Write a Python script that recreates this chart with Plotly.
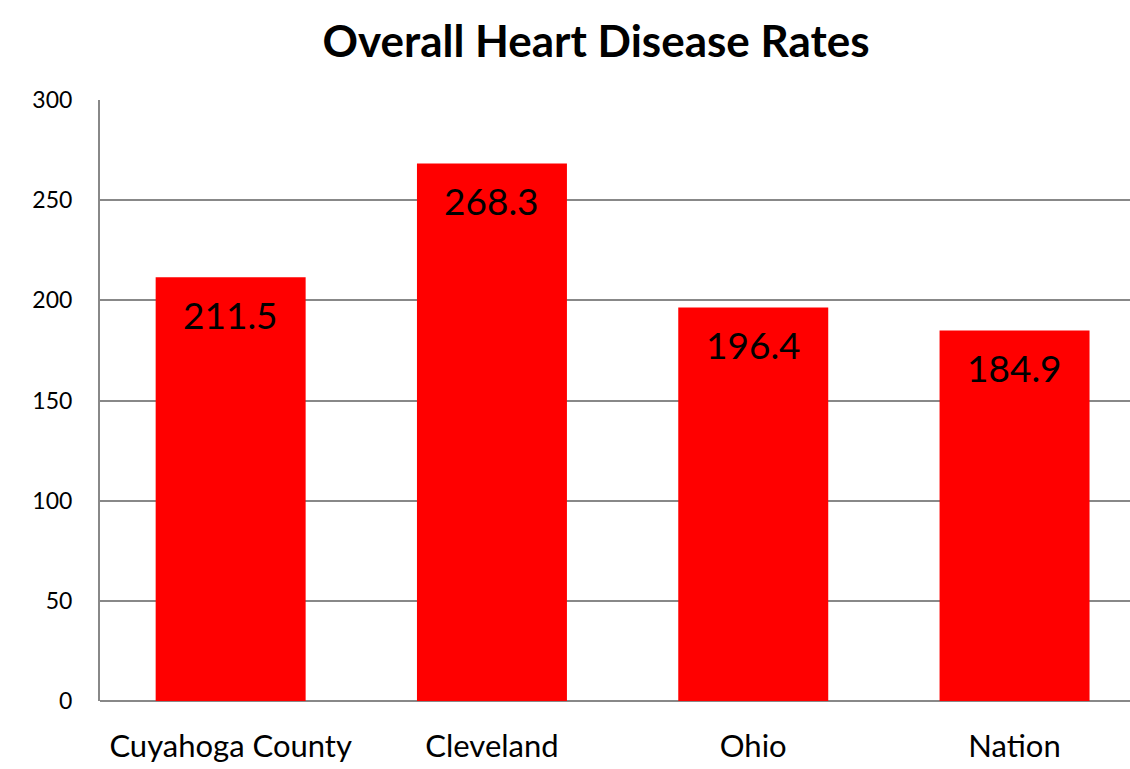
import plotly.graph_objects as go

categories = ["Cuyahoga County", "Cleveland", "Ohio", "Nation"]
rates = [211.5, 268.3, 196.4, 184.9]
y_ticks = [0, 50, 100, 150, 200, 250, 300]

FONT = "Lato"

fig = go.Figure()
fig.add_trace(go.Bar(
    x=list(range(len(categories))),
    y=rates,
    width=0.574,
    marker=dict(color="#FF0000", line=dict(width=0)),
    hoverinfo="skip",
))

for i, v in enumerate(rates):
    fig.add_annotation(
        x=i, y=v, xref="x", yref="y",
        text=f"{v:.1f}", showarrow=False,
        yanchor="middle", yshift=-37,
        font=dict(family=FONT, size=37, color="#000000"),
    )

fig.update_layout(
    width=1130, height=769,
    margin=dict(l=100, r=0, t=100, b=68),
    paper_bgcolor="white", plot_bgcolor="white",
    showlegend=False,
    title=dict(
        text="<b>Overall Heart Disease Rates</b>",
        x=596 / 1130, xref="container", xanchor="center",
        y=1 - 42 / 769, yref="container", yanchor="middle",
        font=dict(family=FONT, size=44, color="#000000"),
    ),
    xaxis=dict(
        range=[-0.5, -0.5 + 1030 / 261.3],
        tickmode="array",
        tickvals=list(range(len(categories))),
        ticktext=categories,
        tickfont=dict(family=FONT, size=31, color="#000000"),
        showgrid=False, zeroline=False,
        showline=False, ticks="", ticklabelstandoff=24,
    ),
    yaxis=dict(
        range=[0, 300],
        tickmode="array",
        tickvals=y_ticks,
        tickfont=dict(family=FONT, size=23, color="#000000"),
        showgrid=True, gridcolor="#888888", gridwidth=2,
        zeroline=True, zerolinecolor="#888888", zerolinewidth=2,
        showline=True, linecolor="#888888", linewidth=2,
        ticks="", ticklabelstandoff=21,
    ),
)

fig.write_html(
    "out.html",
    config={"displayModeBar": False},
    post_script=(
        "document.body.style.margin='0';"
        "document.body.style.overflow='hidden';"
        "document.documentElement.style.overflow='hidden';"
    ),
)
